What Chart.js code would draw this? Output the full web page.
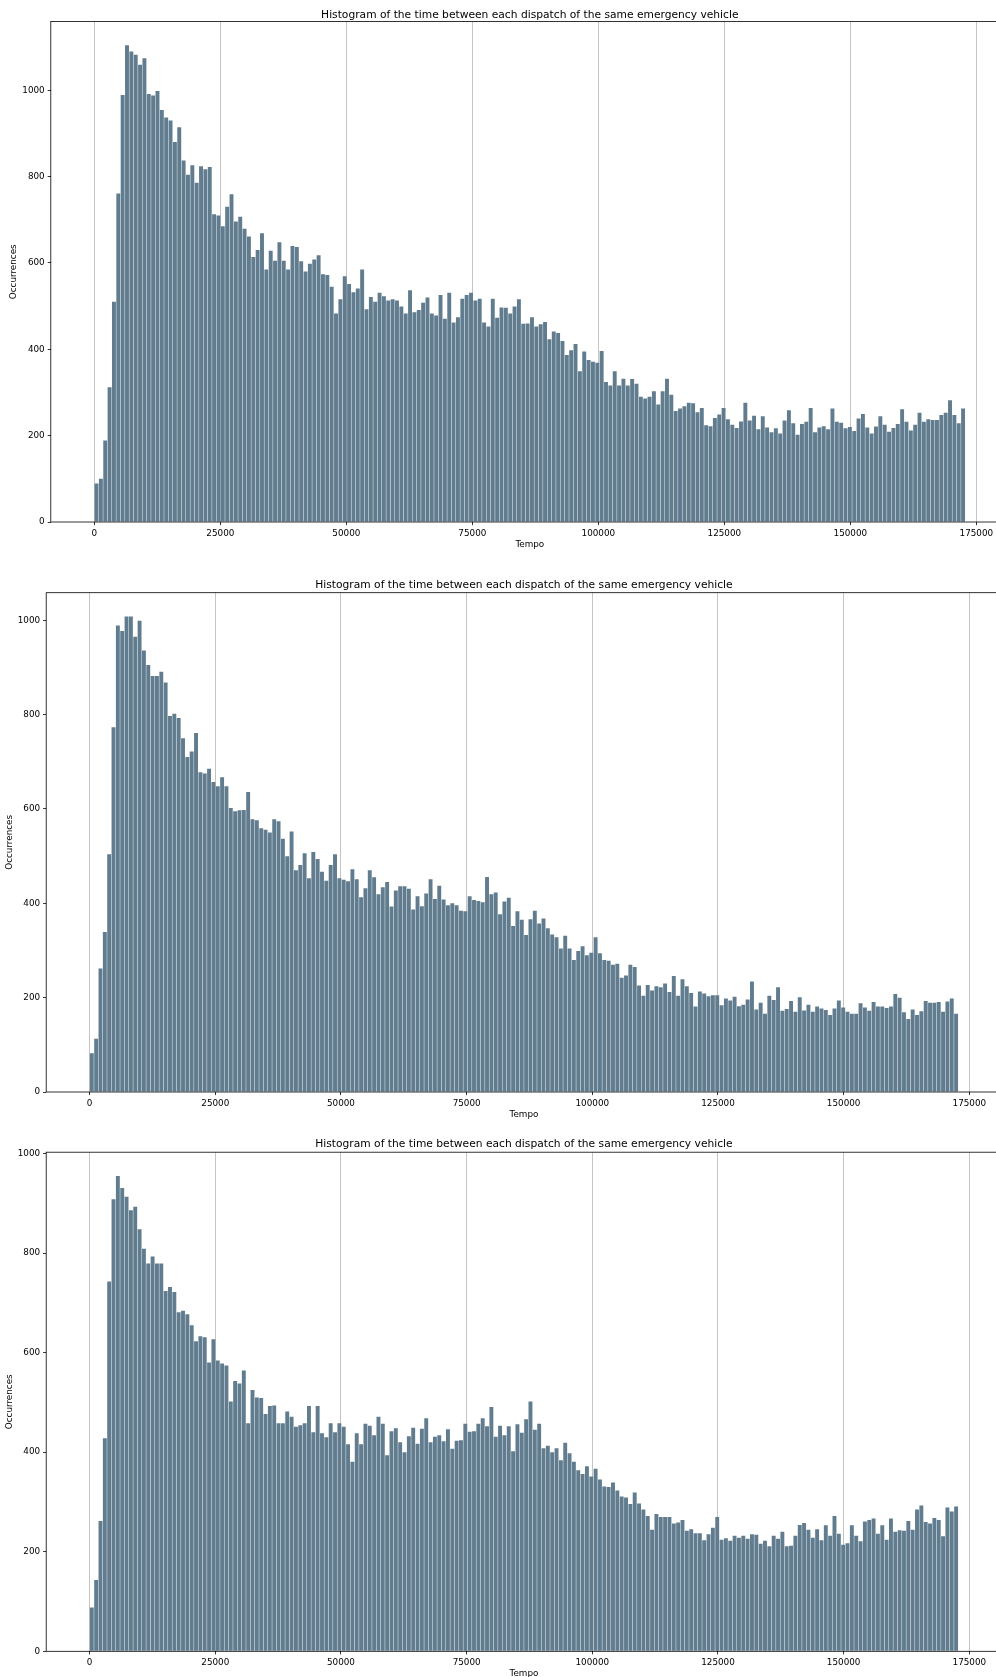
<!DOCTYPE html>
<html>
<head>
<meta charset="utf-8">
<title>Histogram of the time between each dispatch</title>
<script src="https://cdn.jsdelivr.net/npm/chart.js@4.4.1/dist/chart.umd.min.js"></script>
<style>
  html, body { margin: 0; padding: 0; background: #fff; overflow: hidden; }
  #page { position: relative; width: 996px; height: 1677px; overflow: hidden; background: #fff; }
  #page canvas { position: absolute; left: 0; }
</style>
</head>
<body>
<div id="page">
  <canvas id="hist1"></canvas>
  <canvas id="hist2"></canvas>
  <canvas id="hist3"></canvas>
</div>
<script>
// histogram settings (200 bins from 0 to 172800 s)
const binWidth = 864;
const xTicks = [0, 25000, 50000, 75000, 100000, 125000, 150000, 175000];
const yTicks = [0, 200, 400, 600, 800, 1000];
const titleText = "Histogram of the time between each dispatch of the same emergency vehicle";
const xLabel = "Tempo";
const yLabel = "Occurrences";

// bar heights
const occurrences1 = [
  89, 100, 189, 312, 510, 761, 989, 1104, 1090, 1082,
  1059, 1074, 991, 988, 998, 954, 937, 930, 880, 914,
  837, 804, 826, 786, 824, 817, 822, 713, 710, 685,
  730, 759, 696, 707, 679, 661, 614, 630, 669, 585,
  628, 605, 648, 605, 585, 639, 637, 604, 580, 598,
  608, 618, 574, 572, 545, 483, 516, 569, 551, 532,
  541, 585, 493, 521, 510, 531, 523, 513, 516, 513,
  499, 483, 537, 486, 491, 508, 520, 483, 478, 526,
  471, 531, 462, 474, 517, 526, 531, 513, 517, 462,
  453, 517, 473, 497, 496, 483, 499, 516, 459, 460,
  474, 453, 458, 463, 423, 441, 438, 419, 387, 398,
  412, 349, 395, 375, 371, 369, 396, 324, 316, 349,
  316, 332, 316, 331, 320, 290, 286, 290, 303, 272,
  303, 332, 295, 257, 263, 268, 276, 275, 254, 264,
  224, 222, 241, 249, 264, 238, 225, 218, 233, 276,
  235, 246, 215, 245, 219, 208, 217, 205, 235, 259,
  229, 202, 227, 232, 264, 208, 219, 222, 215, 263,
  232, 230, 217, 220, 211, 240, 250, 219, 205, 221,
  245, 225, 209, 218, 227, 261, 232, 212, 225, 253,
  232, 238, 236, 236, 248, 253, 282, 248, 229, 263
];

const occurrences2 = [
  82, 113, 262, 339, 504, 773, 989, 977, 1008, 1008,
  965, 999, 936, 905, 882, 882, 891, 868, 797, 802,
  793, 750, 710, 722, 761, 678, 675, 685, 657, 648,
  667, 648, 602, 595, 597, 598, 636, 578, 576, 559,
  556, 550, 578, 574, 537, 500, 552, 470, 481, 506,
  453, 509, 494, 467, 448, 481, 504, 453, 450, 447,
  472, 451, 413, 432, 470, 455, 419, 434, 445, 393,
  427, 436, 436, 431, 387, 415, 394, 421, 451, 409,
  437, 408, 396, 400, 396, 384, 383, 415, 407, 405,
  402, 456, 419, 423, 377, 404, 412, 352, 383, 365,
  333, 366, 384, 357, 368, 347, 334, 328, 304, 331,
  304, 280, 299, 309, 290, 295, 328, 294, 280, 278,
  270, 272, 242, 247, 270, 265, 226, 204, 227, 215,
  224, 222, 230, 212, 246, 204, 239, 224, 210, 181,
  213, 209, 203, 205, 205, 184, 198, 194, 202, 182,
  185, 196, 234, 175, 189, 166, 204, 195, 222, 172,
  176, 193, 170, 201, 173, 185, 170, 181, 177, 174,
  163, 177, 194, 179, 170, 166, 166, 188, 179, 172,
  191, 181, 181, 178, 181, 208, 200, 169, 155, 175,
  163, 171, 193, 189, 189, 191, 170, 192, 198, 166
];

const occurrences3 = [
  88, 143, 262, 428, 743, 908, 955, 931, 913, 886,
  893, 848, 809, 779, 793, 779, 779, 724, 732, 722,
  681, 684, 677, 655, 623, 633, 631, 580, 627, 584,
  578, 574, 502, 543, 538, 564, 458, 525, 510, 509,
  477, 493, 494, 458, 458, 482, 471, 451, 454, 458,
  493, 440, 493, 438, 430, 458, 440, 458, 451, 416,
  381, 438, 416, 457, 453, 434, 471, 457, 394, 442,
  448, 420, 400, 432, 449, 417, 447, 468, 420, 431,
  434, 422, 446, 407, 423, 424, 457, 441, 442, 457,
  468, 452, 491, 431, 453, 434, 452, 402, 456, 439,
  466, 502, 445, 457, 408, 413, 400, 408, 384, 419,
  398, 381, 364, 356, 372, 351, 367, 345, 331, 330,
  339, 323, 311, 309, 296, 319, 297, 285, 272, 244,
  276, 270, 270, 270, 257, 259, 264, 242, 245, 237,
  237, 223, 235, 248, 270, 224, 227, 222, 232, 228,
  232, 226, 235, 234, 216, 222, 211, 232, 226, 240,
  211, 212, 232, 254, 258, 244, 228, 245, 223, 253,
  232, 272, 236, 214, 217, 253, 232, 221, 261, 264,
  267, 236, 253, 224, 267, 240, 243, 242, 262, 244,
  285, 293, 260, 257, 268, 264, 231, 289, 281, 291
];

// where each plot box sits on the page (px)
const CANVAS_W = 1012;
const X_AXIS_H = 30;
const TITLE_SIZE = 10.7;
const LABEL_SIZE = 8.8;
const boxes = [
  { top: 21.5, bottom: 522.0, left: 50.8, right: 1008.8, titleY: 14.8, ylabelX: 14.0 },
  { top: 592.7, bottom: 1092.0, left: 46.2, right: 1001.7, titleY: 584.8, ylabelX: 9.6 },
  { top: 1152.2, bottom: 1651.3, left: 46.2, right: 1001.7, titleY: 1144.4, ylabelX: 9.6 }
];

Chart.defaults.font.family = "'DejaVu Sans', sans-serif";
Chart.defaults.color = "#000";

// matplotlib style frame round the plot area
const framePlugin = {
  id: "frame",
  afterDraw(chart) {
    const { ctx, chartArea: a } = chart;
    ctx.save();
    ctx.strokeStyle = "#000";
    ctx.lineWidth = 0.8;
    ctx.strokeRect(a.left, a.top, a.right - a.left, a.bottom - a.top);
    ctx.restore();
  }
};

function makeHistogram(canvasId, values, box) {
  const canvas = document.getElementById(canvasId);
  const canvasTop = Math.floor(box.top - 40);
  const canvasHeight = Math.ceil(box.bottom + X_AXIS_H + 4 - canvasTop);
  canvas.width = CANVAS_W;
  canvas.height = canvasHeight;
  canvas.style.top = canvasTop + "px";

  const titleLine = TITLE_SIZE * 1.2;
  const titlePadTop = box.titleY - canvasTop - titleLine / 2;
  const titlePadBottom = box.top - canvasTop - titlePadTop - titleLine;
  const labelLine = LABEL_SIZE * 1.2;

  const xEnd = values.length * binWidth;
  const data = values.map((v, i) => ({ x: (i + 0.5) * binWidth, y: v }));

  return new Chart(canvas, {
    type: "bar",
    data: {
      datasets: [{
        data,
        backgroundColor: "#607c8e",
        borderWidth: 0,
        barPercentage: 0.9,
        categoryPercentage: 1.0
      }]
    },
    options: {
      responsive: false,
      animation: false,
      events: [],
      layout: {
        padding: {
          left: 0,
          top: 0,
          right: CANVAS_W - box.right,
          bottom: canvasHeight - (box.bottom - canvasTop) - X_AXIS_H
        }
      },
      plugins: {
        legend: { display: false },
        tooltip: { enabled: false },
        title: {
          display: true,
          fullSize: false, // centred over the plot box like matplotlib
          text: titleText,
          color: "#000",
          font: { size: TITLE_SIZE, weight: "normal", lineHeight: 1.2 },
          padding: { top: titlePadTop, bottom: titlePadBottom }
        }
      },
      scales: {
        x: {
          type: "linear",
          offset: false,
          min: -0.05 * xEnd,
          max: 1.05 * xEnd,
          z: 1,
          afterBuildTicks: (s) => { s.ticks = xTicks.map((v) => ({ value: v })); },
          afterFit: (s) => { s.height = X_AXIS_H; },
          grid: {
            offset: false,
            color: "rgba(176,176,176,0.75)",
            lineWidth: 1,
            drawTicks: true,
            tickLength: 3.1,
            tickColor: "#000",
            tickWidth: 0.8
          },
          border: { display: false },
          ticks: {
            color: "#000",
            font: { size: LABEL_SIZE },
            padding: 3,
            maxRotation: 0,
            autoSkip: false,
            callback: (v) => String(v)
          },
          title: {
            display: true,
            text: xLabel,
            color: "#000",
            font: { size: LABEL_SIZE, lineHeight: 1.2 },
            padding: { top: 0, bottom: X_AXIS_H - 22.8 - labelLine / 2 }
          }
        },
        y: {
          min: 0,
          max: Math.max(...values) * 1.05,
          afterBuildTicks: (s) => { s.ticks = yTicks.map((v) => ({ value: v })); },
          afterFit: (s) => { s.width = box.left; },
          grid: {
            drawOnChartArea: false,
            drawTicks: true,
            tickLength: 3.1,
            tickColor: "#000",
            tickWidth: 0.8
          },
          border: { display: false },
          ticks: {
            color: "#000",
            font: { size: LABEL_SIZE },
            padding: 3,
            callback: (v) => String(v)
          },
          title: {
            display: true,
            text: yLabel,
            color: "#000",
            font: { size: LABEL_SIZE, lineHeight: 1.2 },
            padding: { top: box.ylabelX - labelLine / 2, bottom: 0 }
          }
        }
      }
    },
    plugins: [framePlugin]
  });
}

makeHistogram("hist1", occurrences1, boxes[0]);
makeHistogram("hist2", occurrences2, boxes[1]);
makeHistogram("hist3", occurrences3, boxes[2]);
</script>
</body>
</html>
